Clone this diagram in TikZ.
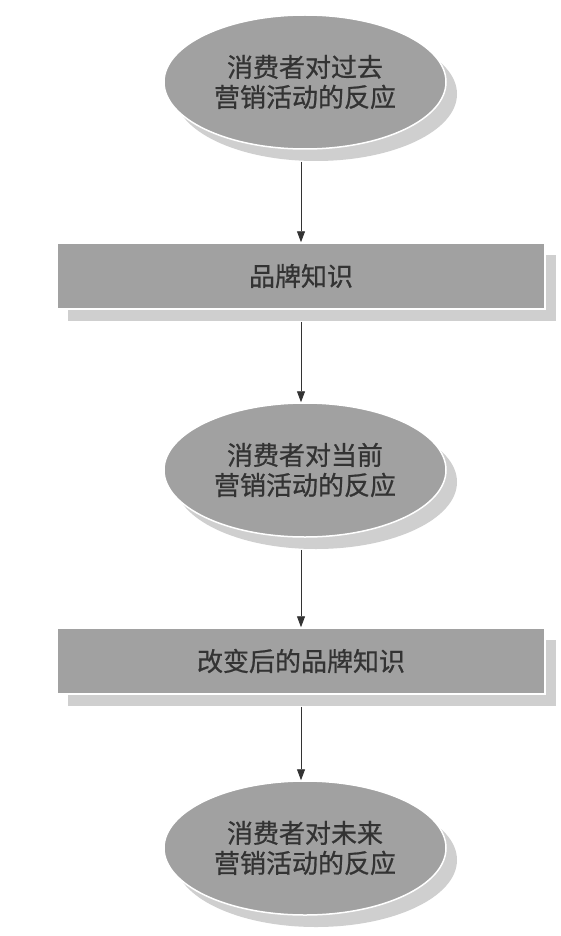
\documentclass[tikz,border=0pt]{standalone}
\usepackage{fontspec}
\newfontfamily\cjk{Noto Sans CJK SC}[FakeBold=0.8]
\usetikzlibrary{shapes.geometric,shadows,arrows.meta}
\definecolor{facegray}{gray}{0.63}
\definecolor{shadegray}{gray}{0.81}
\definecolor{inkgray}{gray}{0.2}
\begin{document}
\begin{tikzpicture}[x=1pt,y=-1pt,
  label text/.style={font=\cjk\fontsize{26}{30}\selectfont, text=inkgray, align=center},
  offset shade/.style={drop shadow={shadow xshift=11pt, shadow yshift=-12pt, fill=shadegray, opacity=1}},
  disc/.style={ellipse, label text, fill=facegray, draw=white, line width=1.5pt,
    minimum width=282pt, minimum height=134pt, inner sep=0pt, offset shade},
  band/.style={rectangle, label text, fill=facegray, draw=white, line width=1.5pt,
    minimum width=488pt, minimum height=66pt, inner sep=0pt, offset shade},
  flow/.style={draw=inkgray, line width=0.9pt, -{Triangle[length=11pt,width=8pt]}}
]
\useasboundingbox (0,0) rectangle (561,936);
\fill[white] (0,0) rectangle (561,936);

% stages of the flow
\node[disc] (past) at (305,82) {消费者对过去\\营销活动的反应};
\node[band] (know) at (301,276) {品牌知识};
\node[disc] (now) at (305,470) {消费者对当前\\营销活动的反应};
\node[band] (newknow) at (301,661) {改变后的品牌知识};
\node[disc] (future) at (305,848) {消费者对未来\\营销活动的反应};

% arrow start points just below each shadow
\coordinate (pastfoot) at ([yshift=-12pt]past.south);
\coordinate (knowfoot) at ([yshift=-12pt]know.south);
\coordinate (nowfoot) at ([yshift=-12pt]now.south);
\coordinate (newknowfoot) at ([yshift=-12pt]newknow.south);

% connectors
\draw[flow] (pastfoot -| know.north) -- (know.north);
\draw[flow] (knowfoot) -- (knowfoot |- now.north);
\draw[flow] (nowfoot -| newknow.north) -- (newknow.north);
\draw[flow] (newknowfoot) -- (newknowfoot |- future.north);
\end{tikzpicture}
\end{document}
